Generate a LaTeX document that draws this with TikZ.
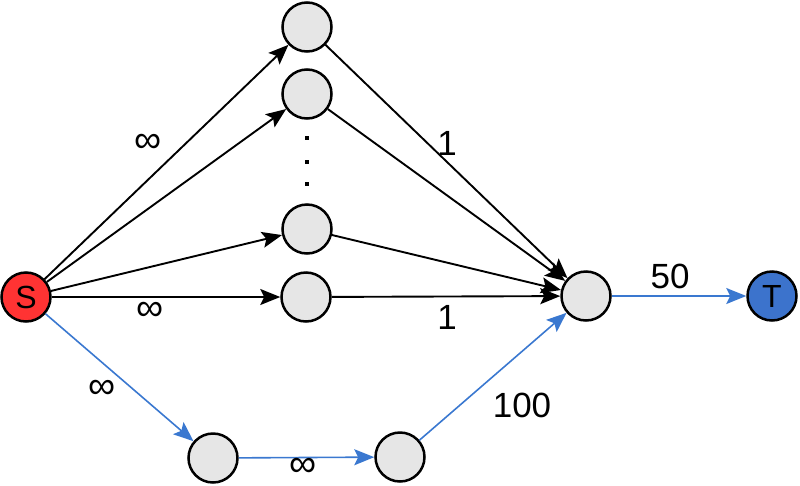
\documentclass[tikz,border=0pt]{standalone}
\usepackage{fontspec}
\setmainfont{Liberation Sans}
\usetikzlibrary{arrows.meta}
\definecolor{nodegray}{HTML}{E6E6E6}
\definecolor{sred}{HTML}{FF3333}
\definecolor{tblue}{HTML}{3C73CC}
\definecolor{eblue}{HTML}{3A78D0}
\begin{document}
\begin{tikzpicture}[x=1pt,y=-1pt,
  vert/.style={circle,draw=black,line width=2.5pt,fill=nodegray,minimum size=49pt,inner sep=0pt,font=\fontsize{32}{36}\selectfont},
  blk/.style={draw=black,line width=1.9pt,-{Stealth[length=20pt,width=16pt,inset=4pt]}},
  blu/.style={draw=eblue,line width=1.6pt,-{Stealth[length=20pt,width=16pt,inset=4pt]}},
  lbl/.style={font=\fontsize{35}{38}\selectfont,inner sep=0pt},
  inf/.style={font=\fontsize{38}{40}\selectfont,inner sep=0pt}]
\useasboundingbox (0,0) rectangle (800,485);
\node[vert,fill=sred] (S) at (26,297) {S};
\node[vert] (a) at (307,27) {};
\node[vert] (b) at (307,94) {};
\node[vert] (c) at (307,229) {};
\node[vert] (d) at (306,297) {};
\node[vert] (h) at (586,296) {};
\node[vert,fill=tblue] (T) at (772,296) {T};
\node[vert] (p) at (213,458) {};
\node[vert] (q) at (400,457) {};
\foreach \yy in {138,162,184} \fill[black] (305,\yy-2) rectangle (309,\yy+2);
\draw[blk] (S) -- (a);
\draw[blk] (S) -- (b);
\draw[blk] (S) -- (c);
\draw[blk] (S) -- (d);
\draw[blk] (a) -- (h);
\draw[blk] (b) -- (h);
\draw[blk] (c) -- (h);
\draw[blk] (d) -- (h);
\draw[blu] (S) -- (p);
\draw[blu] (p) -- (q);
\draw[blu] (q) -- (h);
\draw[blu] (h) -- (T);
\node[inf] (l1) at (148,143) {∞};
\node[inf] (l2) at (150,311) {∞};
\node[lbl] (l3) at (447,143) {1};
\node[lbl] (l4) at (447,317) {1};
\node[lbl] (l5) at (670,276) {50};
\node[lbl] (l6) at (522,405) {100};
\node[inf] (l7) at (102,389) {∞};
\node[inf] (l8) at (303,467) {∞};
\end{tikzpicture}
\end{document}
